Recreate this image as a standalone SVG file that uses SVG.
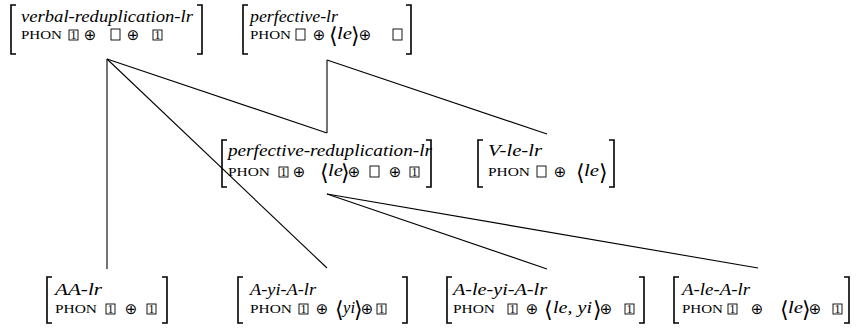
<svg xmlns="http://www.w3.org/2000/svg" width="859" height="331" viewBox="0 0 859 331">
<style>
.lab{font-family:"Liberation Serif","Times New Roman","DejaVu Serif",serif;font-style:italic;font-size:16px}
.ph{font-family:"Liberation Serif","Times New Roman","DejaVu Serif",serif;font-size:13px}
.op{font-family:"DejaVu Sans",sans-serif;font-size:15px;text-anchor:middle}
.ang{font-family:"DejaVu Sans",sans-serif;font-size:22px;text-anchor:middle;font-weight:200}
.it{font-family:"Liberation Serif","Times New Roman","DejaVu Serif",serif;font-style:italic;font-size:16px}
.bx{fill:none;stroke:#000;stroke-width:0.9}
.one{font-family:"Liberation Serif","Times New Roman","DejaVu Serif",serif;font-size:12px;text-anchor:middle}
.br{fill:none;stroke:#000;stroke-width:1.6}
.ln{stroke:#000;stroke-width:1.1;fill:none}
</style>
<rect width="859" height="331" fill="#fff"/>
<g id="connectors">
<line class="ln" x1="107" y1="59" x2="107" y2="269"/>
<line class="ln" x1="107" y1="59" x2="327" y2="133"/>
<line class="ln" x1="107" y1="59" x2="327" y2="268"/>
<line class="ln" x1="327" y1="60" x2="327" y2="133"/>
<line class="ln" x1="327" y1="60" x2="547" y2="134"/>
<line class="ln" x1="327" y1="194" x2="547" y2="269"/>
<line class="ln" x1="327" y1="194" x2="758" y2="268"/>
</g>
<g id="verbal-reduplication-lr">
<path class="br" d="M16,5 H11 V54 H16 M197,5 H202 V54 H197"/>
<text class="lab" x="21" y="22" textLength="172" lengthAdjust="spacingAndGlyphs">verbal-reduplication-lr</text>
<text class="ph" x="21" y="39" textLength="41" lengthAdjust="spacingAndGlyphs">PHON</text>
<rect class="bx" x="69" y="30" width="9" height="10"/><text class="one" x="73.5" y="38.8">1</text>
<text class="op" x="90" y="40">⊕</text>
<rect class="bx" x="111" y="29" width="9" height="11"/>
<text class="op" x="133" y="40">⊕</text>
<rect class="bx" x="153" y="30" width="9" height="10"/><text class="one" x="157.5" y="38.8">1</text>
</g>
<g id="perfective-lr">
<path class="br" d="M248,5 H243 V54 H248 M406,5 H411 V54 H406"/>
<text class="lab" x="250" y="22" textLength="88" lengthAdjust="spacingAndGlyphs">perfective-lr</text>
<text class="ph" x="250" y="39" textLength="41" lengthAdjust="spacingAndGlyphs">PHON</text>
<rect class="bx" x="296" y="29" width="9" height="11"/>
<text class="op" x="319" y="40">⊕</text>
<text class="ang" x="333" y="43">⟨</text>
<text class="it" x="337" y="39" textLength="15" lengthAdjust="spacingAndGlyphs">le</text>
<text class="ang" x="355" y="43">⟩</text>
<text class="op" x="365" y="40">⊕</text>
<rect class="bx" x="393" y="29" width="9" height="11"/>
</g>
<g id="perfective-reduplication-lr">
<path class="br" d="M227,140 H222 V187 H227 M426,140 H431 V187 H426"/>
<text class="lab" x="228" y="156" textLength="204" lengthAdjust="spacingAndGlyphs">perfective-reduplication-lr</text>
<text class="ph" x="228" y="176" textLength="42" lengthAdjust="spacingAndGlyphs">PHON</text>
<rect class="bx" x="279" y="167" width="9" height="10"/><text class="one" x="283.5" y="175.8">1</text>
<text class="op" x="299" y="177">⊕</text>
<text class="ang" x="324" y="180">⟨</text>
<text class="it" x="328" y="176" textLength="15" lengthAdjust="spacingAndGlyphs">le</text>
<text class="ang" x="345" y="180">⟩</text>
<text class="op" x="354" y="177">⊕</text>
<rect class="bx" x="370" y="166" width="9" height="11"/>
<text class="op" x="395" y="177">⊕</text>
<rect class="bx" x="410" y="167" width="9" height="10"/><text class="one" x="414.5" y="175.8">1</text>
</g>
<g id="V-le-lr">
<path class="br" d="M483,140 H478 V187 H483 M609,140 H614 V187 H609"/>
<text class="lab" x="488" y="156" textLength="54" lengthAdjust="spacingAndGlyphs">V-le-lr</text>
<text class="ph" x="488" y="176" textLength="42" lengthAdjust="spacingAndGlyphs">PHON</text>
<rect class="bx" x="537" y="166" width="9" height="11"/>
<text class="op" x="560" y="177">⊕</text>
<text class="ang" x="580" y="180">⟨</text>
<text class="it" x="584" y="176" textLength="15" lengthAdjust="spacingAndGlyphs">le</text>
<text class="ang" x="603" y="180">⟩</text>
</g>
<g id="AA-lr">
<path class="br" d="M52,277 H47 V323 H52 M162,277 H167 V323 H162"/>
<text class="lab" x="55" y="295" textLength="47" lengthAdjust="spacingAndGlyphs">AA-lr</text>
<text class="ph" x="55" y="313" textLength="42" lengthAdjust="spacingAndGlyphs">PHON</text>
<rect class="bx" x="106" y="304" width="9" height="10"/><text class="one" x="110.5" y="312.8">1</text>
<text class="op" x="131" y="314">⊕</text>
<rect class="bx" x="147" y="304" width="9" height="10"/><text class="one" x="151.5" y="312.8">1</text>
</g>
<g id="A-yi-A-lr">
<path class="br" d="M243,277 H238 V323 H243 M402,277 H407 V323 H402"/>
<text class="lab" x="250" y="295" textLength="66" lengthAdjust="spacingAndGlyphs">A-yi-A-lr</text>
<text class="ph" x="250" y="313" textLength="42" lengthAdjust="spacingAndGlyphs">PHON</text>
<rect class="bx" x="299" y="304" width="9" height="10"/><text class="one" x="303.5" y="312.8">1</text>
<text class="op" x="322" y="314">⊕</text>
<text class="ang" x="339" y="317">⟨</text>
<text class="it" x="343" y="313" textLength="12" lengthAdjust="spacingAndGlyphs">yi</text>
<text class="ang" x="358" y="317">⟩</text>
<text class="op" x="367" y="314">⊕</text>
<rect class="bx" x="377" y="304" width="9" height="10"/><text class="one" x="381.5" y="312.8">1</text>
</g>
<g id="A-le-yi-A-lr">
<path class="br" d="M452,277 H447 V323 H452 M639,277 H644 V323 H639"/>
<text class="lab" x="453" y="295" textLength="94" lengthAdjust="spacingAndGlyphs">A-le-yi-A-lr</text>
<text class="ph" x="453" y="313" textLength="42" lengthAdjust="spacingAndGlyphs">PHON</text>
<rect class="bx" x="508" y="304" width="9" height="10"/><text class="one" x="512.5" y="312.8">1</text>
<text class="op" x="532" y="314">⊕</text>
<text class="ang" x="548" y="317">⟨</text>
<text class="it" x="553" y="313" textLength="39" lengthAdjust="spacingAndGlyphs">le, yi</text>
<text class="ang" x="597" y="317">⟩</text>
<text class="op" x="606" y="314">⊕</text>
<rect class="bx" x="625" y="304" width="9" height="10"/><text class="one" x="629.5" y="312.8">1</text>
</g>
<g id="A-le-A-lr">
<path class="br" d="M679,277 H674 V323 H679 M844,277 H849 V323 H844"/>
<text class="lab" x="682" y="295" textLength="68" lengthAdjust="spacingAndGlyphs">A-le-A-lr</text>
<text class="ph" x="682" y="313" textLength="41" lengthAdjust="spacingAndGlyphs">PHON</text>
<rect class="bx" x="728" y="304" width="9" height="10"/><text class="one" x="732.5" y="312.8">1</text>
<text class="op" x="757" y="314">⊕</text>
<text class="ang" x="784" y="317">⟨</text>
<text class="it" x="788" y="313" textLength="15" lengthAdjust="spacingAndGlyphs">le</text>
<text class="ang" x="806" y="317">⟩</text>
<text class="op" x="815" y="314">⊕</text>
<rect class="bx" x="833" y="304" width="9" height="10"/><text class="one" x="837.5" y="312.8">1</text>
</g>
</svg>
